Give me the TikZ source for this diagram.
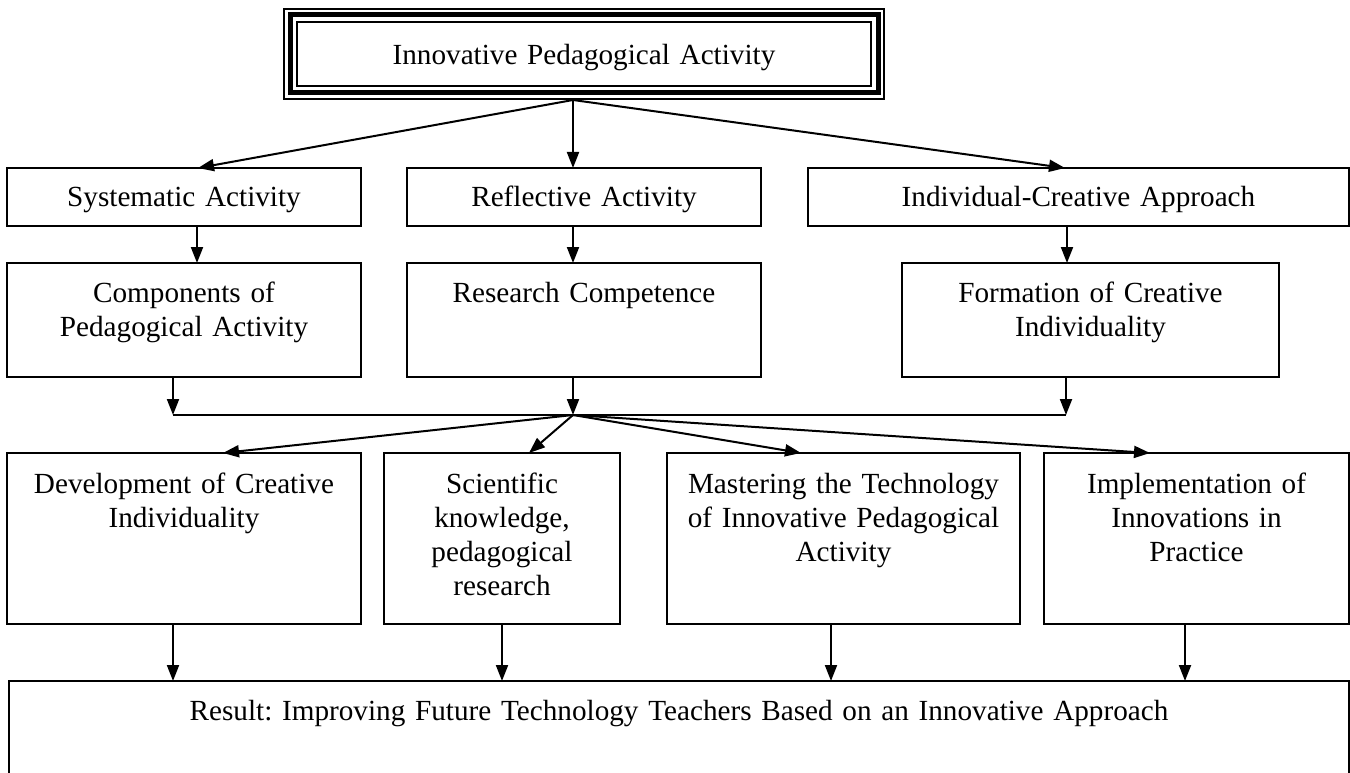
\documentclass[tikz,border=0pt]{standalone}
\usepackage{fontspec}
\setmainfont{Liberation Serif}
\usetikzlibrary{arrows.meta}
\frenchspacing

\begin{document}
\begin{tikzpicture}[x=1pt, y=-1pt,
    box/.style={draw, line width=2pt, inner sep=0pt, outer sep=0pt, anchor=north,
                align=center, font=\fontsize{29.2}{34}\selectfont},
    row2/.style={box, text height=39pt, text depth=19pt},
    row3/.style={box, text height=39pt, text depth=75pt},
    row4/.style={box, text height=40pt, text depth=131pt},
    arrow/.style={line width=2pt, -{Triangle[length=16pt,width=12pt]}}]
  \clip (0,0) rectangle (1350,773);

  % main block, triple frame
  \node[box, line width=5pt, text width=588pt, text height=50pt, text depth=28pt](top) at (584,15) {Innovative Pedagogical Activity};
  \draw[line width=2pt] ([shift={(-6pt,6pt)}]top.north west) rectangle ([shift={(6pt,-6pt)}]top.south east);
  \draw[line width=2.5pt] ([shift={(7pt,-7pt)}]top.north west) rectangle ([shift={(-7pt,7pt)}]top.south east);

  % second row
  \node[row2, text width=354pt](sys)   at (184,168)    {Systematic Activity};
  \node[row2, text width=354pt](refl)  at (584,168)    {Reflective Activity};
  \node[row2, text width=541pt](indiv) at (1078.5,168) {Individual-Creative Approach};

  % third row
  \node[row3, text width=354pt](comp)  at (184,263)    {Components of\\Pedagogical Activity};
  \node[row3, text width=354pt](rsrch) at (584,263)    {Research Competence};
  \node[row3, text width=377pt](form)  at (1090.5,263) {Formation of Creative\\Individuality};

  % collecting line
  \coordinate (jl)  at (173,415);
  \coordinate (hub) at (573,415);
  \coordinate (jr)  at (1066,415);
  \draw[line width=2pt] (jl) -- (jr);

  % fourth row
  \node[row4, text width=354pt](dev)   at (184,453)    {Development of Creative\\Individuality};
  \node[row4, text width=236pt](sci)   at (502,453)    {Scientific\\knowledge,\\pedagogical\\research};
  \node[row4, text width=353pt](mast)  at (843.5,453)  {Mastering the Technology\\of Innovative Pedagogical\\Activity};
  \node[row4, text width=305pt](impl)  at (1196.5,453) {Implementation of\\Innovations in\\Practice};

  % result
  \node[box, text width=1340pt, text height=39pt, text depth=161pt](res) at (679,681)
    {Result: Improving Future Technology Teachers Based on an Innovative Approach};

  \path[arrow]
    ([shift={(-11pt,-7pt)}]top.south) edge ([xshift=14pt]sys.north)
    ([shift={(-11pt,-7pt)}]top.south) edge ([xshift=-11pt]refl.north)
    ([shift={(-11pt,-7pt)}]top.south) edge ([xshift=-13.5pt]indiv.north)
    ([xshift=13pt]sys.south)      edge ([xshift=13pt]comp.north)
    ([xshift=-11pt]refl.south)    edge ([xshift=-11pt]rsrch.north)
    ([xshift=-11.5pt]indiv.south) edge ([xshift=-23.5pt]form.north)
    ([xshift=-11pt]comp.south)    edge (jl)
    ([xshift=-11pt]rsrch.south)   edge (hub)
    ([xshift=-24.5pt]form.south)  edge (jr)
    (hub) edge ([xshift=39pt]dev.north)
    (hub) edge ([xshift=27pt]sci.north)
    (hub) edge ([xshift=-42.5pt]mast.north)
    (hub) edge ([xshift=-46.5pt]impl.north)
    ([xshift=-11pt]dev.south)     edge ([xshift=-506pt]res.north)
    (sci.south)                   edge ([xshift=-177pt]res.north)
    ([xshift=-12.5pt]mast.south)  edge ([xshift=152pt]res.north)
    ([xshift=-11.5pt]impl.south)  edge ([xshift=506pt]res.north)
    ;
\end{tikzpicture}
\end{document}
